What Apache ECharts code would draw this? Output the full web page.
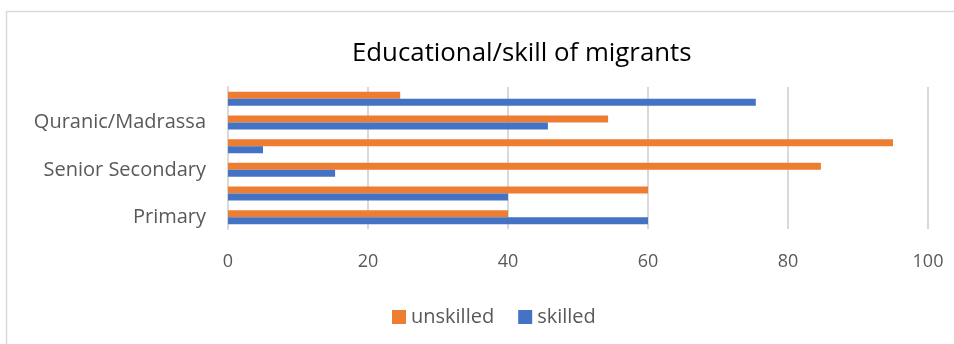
<!DOCTYPE html>
<html><head><meta charset="utf-8">
<script src="https://cdn.jsdelivr.net/npm/echarts@6/dist/echarts.min.js"></script>
<style>html,body{margin:0;padding:0;background:#fff}#c{width:954px;height:344px}</style>
</head><body><div id="c"></div>
<script>
const categories = ["Primary", "Junior Secondary", "Senior Secondary", "Tertiary", "Quranic/Madrassa", "None"];
const unskilled = [40, 60, 84.7, 95, 54.3, 24.6];
const skilled = [60, 40, 15.3, 5, 45.7, 75.4];
const xTicks = [0, 20, 40, 60, 80, 100];

const chart = echarts.init(document.getElementById('c'));
const font = "'Open Sans', 'Noto Sans', sans-serif";
chart.setOption({
  animation: false,
  textStyle: { fontFamily: font },
  graphic: [{
    type: 'rect', shape: { x: 6.5, y: 11.5, width: 960, height: 340 },
    style: { fill: 'none', stroke: '#D9D9D9', lineWidth: 1.5 }, silent: true
  }],
  title: {
    text: 'Educational/skill of migrants', left: 347, top: 36,
    textStyle: { fontFamily: font, fontSize: 25.8, fontWeight: 'normal', color: '#000' }
  },
  legend: {
    top: 302, left: 387, itemWidth: 14, itemHeight: 14, itemGap: 24,
    icon: 'rect',
    textStyle: { fontFamily: font, fontSize: 20, color: '#595959' },
    data: ['unskilled', 'skilled']
  },
  grid: { left: 228, right: 26, top: 87, bottom: 115, containLabel: false },
  xAxis: {
    type: 'value', min: 0, max: 100, interval: 20,
    axisLine: { show: false }, axisTick: { show: false },
    splitLine: { lineStyle: { color: '#D9D9D9', width: 2 } },
    axisLabel: { fontFamily: font, fontSize: 18, color: '#595959', margin: 24,
      formatter: v => xTicks.includes(v) ? String(v) : '' }
  },
  yAxis: {
    type: 'category', data: categories,
    axisLine: { show: true, lineStyle: { color: '#D9D9D9', width: 2 } },
    axisTick: { show: false },
    axisLabel: { interval: 1, fontFamily: font, fontSize: 20, color: '#595959', margin: 22 }
  },
  series: [
    { name: 'unskilled', type: 'bar', data: unskilled, barWidth: 7, barGap: '0%',
      itemStyle: { color: '#ED7D31' } },
    { name: 'skilled', type: 'bar', data: skilled, barWidth: 7, barGap: '0%',
      itemStyle: { color: '#4472C4' } }
  ]
});
</script></body></html>
